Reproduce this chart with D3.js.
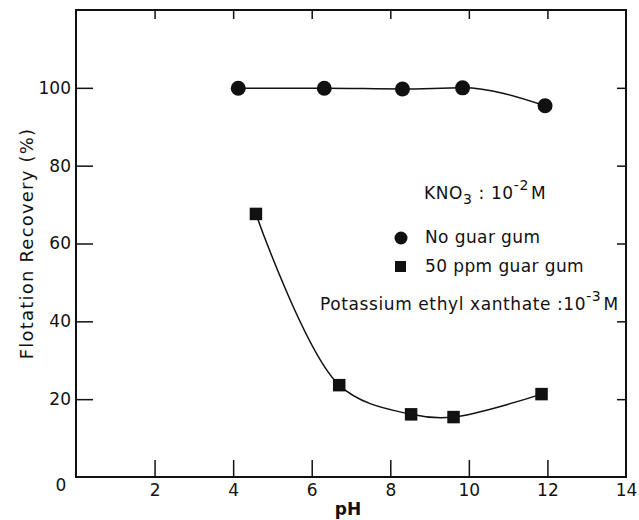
<!DOCTYPE html>
<html>
<head>
<meta charset="utf-8">
<script src="https://cdn.jsdelivr.net/npm/d3@7"></script>
<style>
  body { margin: 0; background: #fff; }
  svg text { font-family: "DejaVu Sans", sans-serif; fill: #111; }
</style>
</head>
<body>
<div id="chart"></div>
<script>
// data
const phNoGuar = [4.13, 6.32, 8.31, 9.84, 11.94];
const recNoGuar = [99.9, 99.9, 99.7, 100.0, 95.4];
const phGuar = [4.58, 6.7, 8.53, 9.61, 11.85];
const recGuar = [67.6, 23.6, 16.1, 15.4, 21.3];
const xTicks = [2, 4, 6, 8, 10, 12, 14];
const yTicks = [20, 40, 60, 80, 100];

const width = 639, height = 520;
const mLeft = 76, mRight = 626, mTop = 10, mBottom = 477;

const svg = d3.select("#chart")
  .append("svg")
  .attr("width", width)
  .attr("height", height);

const x = d3.scaleLinear().domain([0, 14]).range([mLeft, mRight]);
const y = d3.scaleLinear().domain([0, 120]).range([mBottom, mTop]);

// frame
svg.append("rect")
  .attr("x", mLeft).attr("y", mTop)
  .attr("width", mRight - mLeft).attr("height", mBottom - mTop)
  .attr("fill", "none").attr("stroke", "#111").attr("stroke-width", 2);

const styleAxis = g => {
  g.select(".domain").remove();
  g.selectAll("line").attr("stroke", "#111").attr("stroke-width", 1.5);
  g.selectAll("text").style("font-size", "17px").attr("fill", "#111");
};

svg.append("g")
  .attr("transform", `translate(0,${mBottom})`)
  .call(d3.axisBottom(x).tickValues(xTicks).tickSize(-17).tickPadding(7))
  .call(styleAxis)
  .call(g => g.selectAll(".tick").filter(d => d == 14).select("line").remove());

svg.append("g")
  .attr("transform", `translate(0,${mTop})`)
  .call(d3.axisTop(x).tickValues(xTicks.slice(0, -1)).tickSize(-9).tickFormat(""))
  .call(styleAxis);

svg.append("g")
  .attr("transform", `translate(${mLeft},0)`)
  .call(d3.axisLeft(y).tickValues(yTicks).tickSize(-17).tickPadding(5))
  .call(styleAxis);

svg.append("g")
  .attr("transform", `translate(${mRight},0)`)
  .call(d3.axisRight(y).tickValues(yTicks).tickSize(-9).tickFormat(""))
  .call(styleAxis);

// the lone "0" at the corner
svg.append("text")
  .attr("x", mLeft - 15).attr("y", mBottom + 14)
  .attr("text-anchor", "middle")
  .style("font-size", "17px")
  .text("0");

// axis titles
svg.append("text")
  .attr("x", (mLeft + mRight) / 2 - 3).attr("y", 515)
  .attr("text-anchor", "middle")
  .style("font-size", "17px").style("font-weight", "bold")
  .text("pH");

svg.append("text")
  .attr("transform", `translate(33,${(mTop + mBottom) / 2}) rotate(-90)`)
  .attr("text-anchor", "middle")
  .style("font-size", "18px")
  .style("letter-spacing", "1.2px")
  .text("Flotation Recovery (%)");

// curves
const lineTop = d3.line()
  .x(d => x(d[0]))
  .y(d => y(d[1]))
  .curve(d3.curveMonotoneX);

const lineBottom = d3.line()
  .x(d => x(d[0]))
  .y(d => y(d[1]))
  .curve(d3.curveCatmullRom.alpha(0.5));

const noGuar = phNoGuar.map((p, i) => [p, recNoGuar[i]]);
const guar = phGuar.map((p, i) => [p, recGuar[i]]);

svg.append("path")
  .datum(noGuar)
  .attr("d", lineTop)
  .attr("fill", "none").attr("stroke", "#111").attr("stroke-width", 1.5);

svg.append("path")
  .datum(guar)
  .attr("d", lineBottom)
  .attr("fill", "none").attr("stroke", "#111").attr("stroke-width", 1.5);

svg.append("g")
  .selectAll("circle")
  .data(noGuar)
  .join("circle")
  .attr("cx", d => x(d[0]))
  .attr("cy", d => y(d[1]))
  .attr("r", 7.5)
  .attr("fill", "#111");

const sq = 12.5;
svg.append("g")
  .selectAll("rect")
  .data(guar)
  .join("rect")
  .attr("x", d => x(d[0]) - sq / 2)
  .attr("y", d => y(d[1]) - sq / 2)
  .attr("width", sq).attr("height", sq)
  .attr("fill", "#111");

// annotations / legend
const legendFont = "17px";
const kno = svg.append("text")
  .attr("x", 424).attr("y", 199)
  .style("font-size", legendFont)
  .style("letter-spacing", "0.6px");
kno.append("tspan").text("KNO");
kno.append("tspan").attr("dy", 5).style("font-size", "14px").text("3");
kno.append("tspan").attr("dy", -5).text(" : 10");
kno.append("tspan").attr("dy", -9).style("font-size", "14px").text("-2");
kno.append("tspan").attr("dy", 9).attr("dx", 2).text("M");

svg.append("circle")
  .attr("cx", 401).attr("cy", 238).attr("r", 6.5).attr("fill", "#111");
svg.append("text")
  .attr("x", 425).attr("y", 243)
  .style("font-size", legendFont)
  .style("letter-spacing", "0.4px")
  .text("No guar gum");

svg.append("rect")
  .attr("x", 395).attr("y", 261).attr("width", 11).attr("height", 11).attr("fill", "#111");
svg.append("text")
  .attr("x", 425).attr("y", 272)
  .style("font-size", legendFont)
  .style("letter-spacing", "0.4px")
  .text("50 ppm guar gum");

const pex = svg.append("text")
  .attr("x", 320).attr("y", 310)
  .style("font-size", legendFont)
  .style("letter-spacing", "0.6px");
pex.append("tspan").text("Potassium ethyl xanthate :10");
pex.append("tspan").attr("dy", -9).style("font-size", "14px").text("-3");
pex.append("tspan").attr("dy", 9).attr("dx", 2).text("M");
</script>
</body>
</html>
